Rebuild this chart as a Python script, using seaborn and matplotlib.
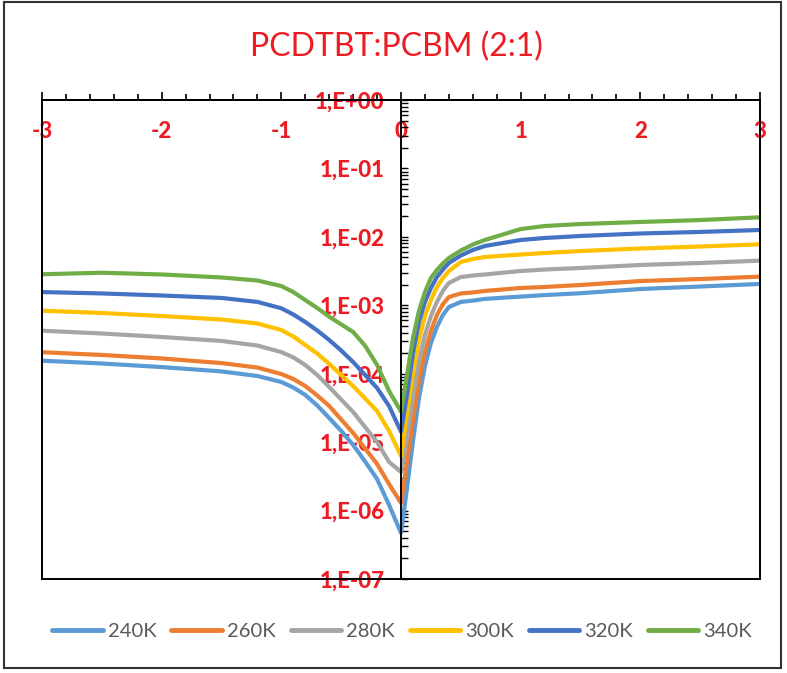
import numpy as np
import pandas as pd
import matplotlib.pyplot as plt
import seaborn as sns
from matplotlib.ticker import MultipleLocator, LogLocator, FuncFormatter, NullFormatter
from matplotlib.patches import Rectangle

# Voltage (V) and current (A)
voltage = [-3, -2.5, -2, -1.5, -1.2, -1.0, -0.9, -0.8, -0.7, -0.6, -0.5, -0.4, -0.3, -0.2, -0.1, 0,
           0.05, 0.1, 0.15, 0.2, 0.25, 0.3, 0.35, 0.4, 0.5, 0.6, 0.7, 1.0, 1.2, 1.5, 2.0, 2.5, 3.0]

i240 = [1.55e-4, 1.41e-4, 1.25e-4, 1.08e-4, 9.25e-5, 7.57e-5, 6.28e-5, 4.89e-5, 3.43e-5, 2.25e-5, 1.46e-5,
        9.08e-6, 5.21e-6, 2.89e-6, 1.21e-6, 4.70e-7,
        2.14e-6, 1.04e-5, 4.42e-5, 1.30e-4, 2.81e-4, 4.82e-4, 7.21e-4, 9.44e-4, 1.12e-3, 1.17e-3, 1.24e-3,
        1.34e-3, 1.41e-3, 1.50e-3, 1.73e-3, 1.88e-3, 2.05e-3]
i260 = [2.06e-4, 1.88e-4, 1.67e-4, 1.43e-4, 1.23e-4, 9.90e-5, 8.37e-5, 6.61e-5, 4.80e-5, 3.37e-5, 2.14e-5,
        1.36e-5, 8.07e-6, 4.79e-6, 2.44e-6, 1.29e-6,
        5.13e-6, 2.10e-5, 7.82e-5, 2.07e-4, 4.21e-4, 7.21e-4, 1.04e-3, 1.32e-3, 1.49e-3, 1.54e-3, 1.62e-3,
        1.79e-3, 1.85e-3, 1.98e-3, 2.26e-3, 2.42e-3, 2.62e-3]
i280 = [4.25e-4, 3.87e-4, 3.44e-4, 3.01e-4, 2.58e-4, 2.07e-4, 1.73e-4, 1.34e-4, 9.57e-5, 6.40e-5, 4.20e-5,
        2.75e-5, 1.66e-5, 1.00e-5, 5.13e-6, 3.66e-6,
        1.15e-5, 4.72e-5, 1.53e-4, 3.68e-4, 6.97e-4, 1.12e-3, 1.62e-3, 2.12e-3, 2.59e-3, 2.72e-3, 2.82e-3,
        3.17e-3, 3.33e-3, 3.51e-3, 3.88e-3, 4.15e-3, 4.49e-3]
i300 = [8.34e-4, 7.71e-4, 6.97e-4, 6.19e-4, 5.42e-4, 4.35e-4, 3.50e-4, 2.63e-4, 1.97e-4, 1.39e-4, 9.57e-5,
        6.61e-5, 4.35e-5, 2.85e-5, 1.46e-5, 6.27e-6,
        2.58e-5, 1.02e-4, 3.11e-4, 6.97e-4, 1.19e-3, 1.85e-3, 2.51e-3, 3.17e-3, 4.30e-3, 4.74e-3, 5.08e-3,
        5.52e-3, 5.81e-3, 6.21e-3, 6.76e-3, 7.23e-3, 7.78e-3]
i320 = [1.56e-3, 1.49e-3, 1.39e-3, 1.28e-3, 1.12e-3, 9.04e-4, 7.33e-4, 5.70e-4, 4.28e-4, 3.11e-4, 2.18e-4,
        1.48e-4, 9.57e-5, 6.18e-5, 3.37e-5, 1.42e-5,
        4.89e-5, 2.01e-4, 5.70e-4, 1.12e-3, 1.79e-3, 2.59e-3, 3.33e-3, 4.15e-3, 5.34e-3, 6.43e-3, 7.35e-3,
        9.00e-3, 9.62e-3, 1.03e-2, 1.12e-2, 1.18e-2, 1.26e-2]
i340 = [2.84e-3, 2.99e-3, 2.82e-3, 2.55e-3, 2.30e-3, 1.91e-3, 1.56e-3, 1.19e-3, 9.12e-4, 6.81e-4, 5.26e-4,
        4.07e-4, 2.56e-4, 1.34e-4, 5.59e-5, 2.79e-5,
        9.57e-5, 3.33e-4, 8.25e-4, 1.56e-3, 2.51e-3, 3.28e-3, 4.08e-3, 4.91e-3, 6.32e-3, 7.73e-3, 9.00e-3,
        1.30e-2, 1.44e-2, 1.54e-2, 1.65e-2, 1.76e-2, 1.93e-2]

temps = ['240K', '260K', '280K', '300K', '320K', '340K']
colors = ['#5B9BD5', '#ED7D31', '#A5A5A5', '#FFC000', '#4472C4', '#70AD47']

series = [i240, i260, i280, i300, i320, i340]
df = pd.concat([pd.DataFrame({'V': voltage, 'I': s, 'T': t}) for t, s in zip(temps, series)])

sns.set_style("white")
plt.rcParams['font.family'] = ['Lato', 'DejaVu Sans']
plt.rcParams['lines.solid_joinstyle'] = 'round'
plt.rcParams['lines.solid_capstyle'] = 'round'
red = '#ED1C24'

fig = plt.figure(figsize=(7.87, 6.73), dpi=100)
ax = fig.add_axes([0.0534, 0.1397, 0.9123, 0.7117])

sns.lineplot(data=df, x='V', y='I', hue='T', palette=colors, linewidth=3.0, ax=ax)

ax.set_yscale('log')
ax.set_xlim(-3, 3)
ax.set_ylim(1e-7, 1)
ax.set_xlabel('')
ax.set_ylabel('')

# axes: y axis crosses at V=0, x axis on top
ax.spines['right'].set_visible(False)
ax.spines['bottom'].set_visible(False)
ax.spines['left'].set_position(('data', 0))
for s in ['left', 'top']:
    ax.spines[s].set_color('black')
    ax.spines[s].set_linewidth(1.4)
ax.add_patch(Rectangle((0, 0), 1, 1, transform=ax.transAxes, fill=False,
                       ec='black', lw=1.4, clip_on=False, zorder=3))

ax.xaxis.set_ticks_position('top')
ax.xaxis.set_major_locator(MultipleLocator(1))
ax.xaxis.set_minor_locator(MultipleLocator(0.2))
ax.xaxis.set_major_formatter(FuncFormatter(lambda v, p: f"{int(round(v))}"))
ax.tick_params(axis='x', which='both', direction='out', top=True, bottom=False,
               labeltop=True, labelbottom=False, colors='black', width=1.2)
ax.tick_params(axis='x', which='major', length=6, pad=-36, labelsize=16, labelcolor=red)
ax.tick_params(axis='x', which='minor', length=4)

ax.yaxis.set_major_locator(LogLocator(base=10, numticks=10))
ax.yaxis.set_minor_locator(LogLocator(base=10, subs=np.arange(2, 10), numticks=20))
ax.yaxis.set_major_formatter(FuncFormatter(lambda v, p: f"1,E{int(round(np.log10(v))):+03d}"))
ax.yaxis.set_minor_formatter(NullFormatter())
ax.tick_params(axis='y', which='both', direction='in', left=True, right=False,
               colors='black', width=1.0, length=5)
ax.tick_params(axis='y', which='major', pad=12, labelsize=16, labelcolor=red)

plt.setp(ax.get_xticklabels(), fontweight='black')
plt.setp(ax.get_yticklabels(), fontweight='black')

fig.text(0.504, 0.930, 'PCDTBT:PCBM (2:1)', color=red, fontsize=23, ha='center', va='center')

handles, labels = ax.get_legend_handles_labels()
ax.get_legend().remove()
leg = fig.legend(handles, labels, loc='center', bbox_to_anchor=(0.511, 0.061), ncol=6,
                 frameon=False, fontsize=14.5, handlelength=2.5, handletextpad=0.25,
                 columnspacing=0.75, labelcolor='#595959')
for h in leg.legend_handles:
    h.set_linewidth(3.5)

fig.add_artist(Rectangle((0.005, 0.0074), 0.987, 0.9896, transform=fig.transFigure,
                         fill=False, ec='#333333', lw=1.5))

fig.savefig('out.png', dpi=100)
